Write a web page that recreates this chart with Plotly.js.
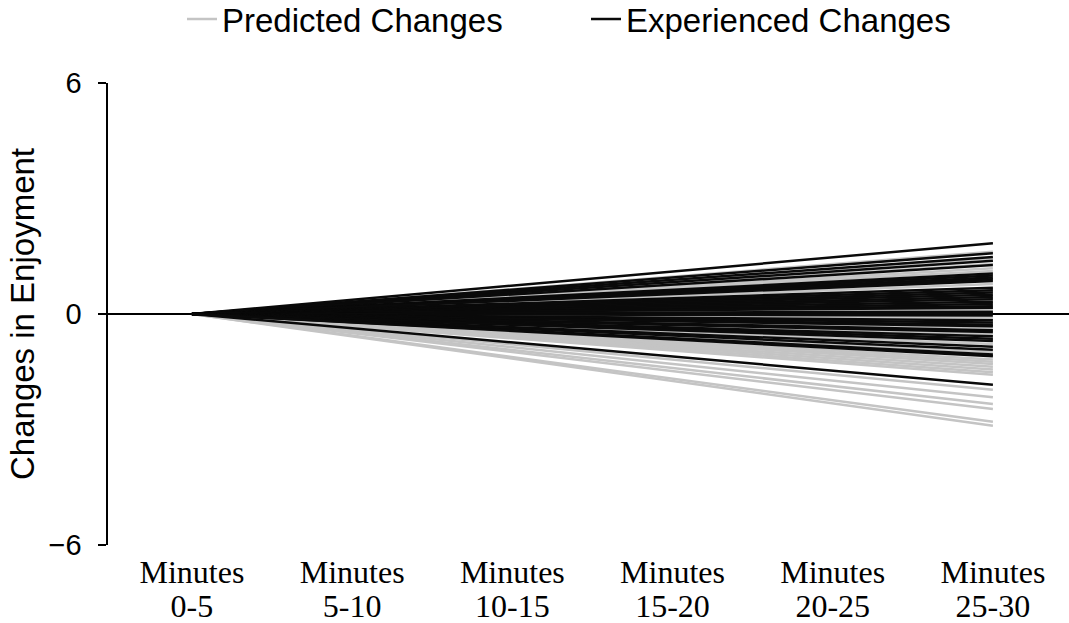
<!DOCTYPE html>
<html>
<head>
<meta charset="utf-8">
<script src="https://cdn.plot.ly/plotly-3.0.1.min.js"></script>
<style>html,body{margin:0;padding:0;background:#fff;}#chart{width:1069px;height:623px;}</style>
</head>
<body>
<div id="chart"></div>
<script>
// Interval categories (x axis): a unit word and the interval ranges
const unitLabel = "Minutes";
const intervals = ["0-5", "5-10", "10-15", "15-20", "20-25", "25-30"];
// Every line starts at 0 in the first interval
const startValue = 0;
// Change in enjoyment reached by Minutes 25-30, one value per participant line
const predictedEnd = [1.62, 1.45, 1.30, 1.19, 1.12, 0.78, 0.60, 0.42, 0.25, 0.13, -0.10, -0.25, -0.36, -0.52, -0.66, -0.78, -0.99,
  -1.18, -1.24, -1.30, -1.37, -1.44, -1.51, -1.58, -1.97, -2.16, -2.34, -2.47, -2.80, -2.90];
const experiencedEnd = [1.84, 1.58, 1.48, 1.38, 1.27, 1.05, 1.00, 0.95, 0.90, 0.86,
  0.68, 0.62, 0.56, 0.50, 0.44, 0.38, 0.32, 0.26, 0.20, 0.16, 0.06, 0.01, -0.04,
  -0.16, -0.22, -0.28, -0.32, -0.42, -0.47, -0.58, -0.64, -0.70, -0.85, -0.93, -1.05, -1.10, -1.84];
const seriesNames = ["Predicted Changes", "Experienced Changes"];
const yTickVals = [-6, 0, 6];
const yTickText = ["\u22126", "0", "6"];

function buildLines(ends) {
  const x = [], y = [];
  ends.forEach(v => {
    x.push(intervals[0], intervals[intervals.length - 1], null);
    y.push(startValue, v, null);
  });
  return {x, y};
}

const p = buildLines(predictedEnd);
const e = buildLines(experiencedEnd);

// Predicted lines on the main x axis; experienced lines on the overlaid x axis
// (same categories and range) so they are drawn above the grey lines.
const traces = [
  {type: "scatter", mode: "lines", name: seriesNames[0], x: p.x, y: p.y, xaxis: "x", yaxis: "y",
   line: {color: "#c4c4c4", width: 2.5}, connectgaps: false, hoverinfo: "skip"},
  {type: "scatter", mode: "lines", name: seriesNames[1], x: e.x, y: e.y, xaxis: "x2", yaxis: "y",
   line: {color: "#0a0a0a", width: 2.5}, connectgaps: false, hoverinfo: "skip"}
];

const xRange = [-0.524, 5.475];
const serif = "Liberation Serif, Times New Roman, serif";
const sans = "Liberation Sans, Arial, sans-serif";

const layout = {
  width: 1069, height: 623,
  margin: {l: 108, r: 0, t: 83, b: 78, autoexpand: false},
  paper_bgcolor: "#fff", plot_bgcolor: "#fff",
  showlegend: true,
  legend: {orientation: "h", x: 74/961, xanchor: "left", y: 1.199, yanchor: "top",
    font: {family: sans, size: 33, color: "#000"},
    entrywidth: 359, entrywidthmode: "pixels", bgcolor: "rgba(0,0,0,0)", traceorder: "normal"},
  xaxis: {type: "category", categoryorder: "array", categoryarray: intervals,
    range: xRange, showline: false, showgrid: false, zeroline: false, ticks: "",
    tickvals: intervals, ticktext: intervals.map(() => unitLabel),
    ticklabelstandoff: 5,
    tickfont: {family: serif, size: 32, color: "#000"}},
  xaxis2: {type: "category", categoryorder: "array", categoryarray: intervals,
    overlaying: "x", side: "bottom", anchor: "y",
    range: xRange, showline: false, showgrid: false, zeroline: false, ticks: "",
    tickvals: intervals, ticktext: intervals,
    ticklabelstandoff: 39,
    tickfont: {family: serif, size: 32, color: "#000"}},
  yaxis: {range: [-6, 6], tickvals: yTickVals, ticktext: yTickText,
    showline: true, linecolor: "#000", linewidth: 2.5, ticks: "outside", ticklen: 8, tickwidth: 2.5, tickcolor: "#000",
    ticklabelstandoff: 10,
    showgrid: false, zeroline: true, zerolinecolor: "#000", zerolinewidth: 2.5,
    tickfont: {family: sans, size: 29, color: "#000"},
    title: {text: "Changes in Enjoyment", font: {family: sans, size: 33, color: "#000"}, standoff: 4}}
};

Plotly.newPlot("chart", traces, layout, {displayModeBar: false, staticPlot: true});
</script>
</body>
</html>
